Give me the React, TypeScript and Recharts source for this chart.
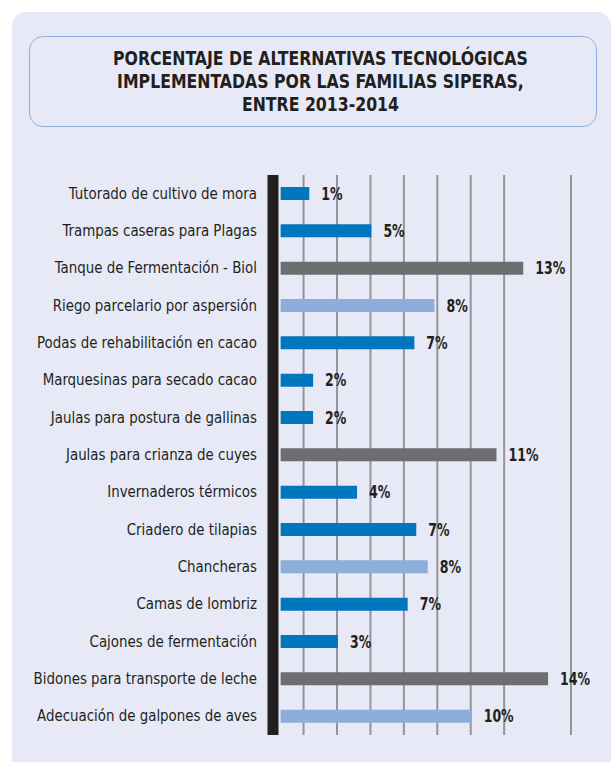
import { BarChart, Bar, XAxis, YAxis, CartesianGrid, Cell, LabelList } from "recharts";

const categories = [
  "Tutorado de cultivo de mora",
  "Trampas caseras para Plagas",
  "Tanque de Fermentación - Biol",
  "Riego parcelario por aspersión",
  "Podas de rehabilitación en cacao",
  "Marquesinas para secado cacao",
  "Jaulas para postura de gallinas",
  "Jaulas para crianza de cuyes",
  "Invernaderos térmicos",
  "Criadero de tilapias",
  "Chancheras",
  "Camas de lombriz",
  "Cajones de fermentación",
  "Bidones para transporte de leche",
  "Adecuación de galpones de aves",
];

const values = [1.5, 4.75, 12.7, 8.05, 7.0, 1.7, 1.7, 11.3, 4.0, 7.1, 7.7, 6.65, 3.0, 14.0, 10.0];

const valueLabels = ["1%", "5%", "13%", "8%", "7%", "2%", "2%", "11%", "4%", "7%", "8%", "7%", "3%", "14%", "10%"];

const groups = ["a", "a", "b", "c", "a", "a", "a", "b", "a", "a", "c", "a", "a", "b", "c"];

// decorative vertical grid, in value units
const gridTicks = [1.2, 2.95, 4.7, 6.45, 8.2, 9.95, 11.7, 13.45, 15.2];

const groupColors: Record<string, string> = {
  a: "#0076be",
  b: "#6d6e71",
  c: "#8dadda",
};

const font = "'Liberation Sans Narrow', 'DejaVu Sans Condensed', 'Roboto', sans-serif";

const chartData = categories.map((name, i) => ({
  name,
  value: values[i],
  label: valueLabels[i],
  group: groups[i],
}));

const CategoryTick = (props: any) => {
  const { x, y, payload } = props;
  return (
    <g transform={`translate(${x},${y}) scale(0.93,1)`}>
      <text x={0} y={0} dy={5} textAnchor="end" fontSize={16} fill="#231f20" fontFamily={font}>
        {payload.value}
      </text>
    </g>
  );
};

const ValueLabel = (props: any) => {
  const { x, y, width, height, value } = props;
  const tx = Number(x) + Number(width) + 12;
  const ty = Number(y) + Number(height) / 2;
  return (
    <g transform={`translate(${tx},${ty}) scale(0.82,1)`}>
      <text x={0} y={0} dy={6} fontSize={17} fontWeight="bold" fill="#231f20" fontFamily={font}>
        {value}
      </text>
    </g>
  );
};

export default function App() {
  return (
    <div style={{ position: "absolute", left: 0, top: 0, width: 611, height: 762, background: "#fff", overflow: "hidden" }}>
      <div
        style={{
          position: "absolute",
          left: 12,
          top: 12,
          width: 599,
          height: 760,
          background: "#e7eaf6",
          borderTopLeftRadius: 14,
          borderTopRightRadius: 14,
        }}
      />
      <div
        style={{
          position: "absolute",
          left: 29,
          top: 36,
          width: 568,
          height: 91,
          border: "1.5px solid #8fb0e0",
          borderRadius: 14,
          display: "flex",
          alignItems: "center",
          justifyContent: "center",
          paddingLeft: 14,
          boxSizing: "border-box",
        }}
      >
        <div
          style={{
            fontFamily: font,
            fontWeight: "bold",
            fontSize: 19,
            lineHeight: "23px",
            textAlign: "center",
            color: "#231f20",
            transform: "scaleX(0.92)",
            whiteSpace: "nowrap",
          }}
        >
          PORCENTAJE DE ALTERNATIVAS TECNOLÓGICAS
          <br />
          IMPLEMENTADAS POR LAS FAMILIAS SIPERAS,
          <br />
          ENTRE 2013-2014
        </div>
      </div>
      <div style={{ position: "absolute", left: 0, top: 0 }}>
        <BarChart
          width={611}
          height={762}
          data={chartData}
          layout="vertical"
          margin={{ top: 175, right: 40, bottom: 27, left: 0 }}
        >
          <CartesianGrid horizontal={false} stroke="#939598" strokeWidth={2} />
          <XAxis type="number" domain={[-0.4, 15.2]} ticks={gridTicks} allowDataOverflow hide />
          <YAxis
            type="category"
            dataKey="name"
            width={273}
            tickLine={false}
            tickSize={0}
            tickMargin={16}
            axisLine={{ stroke: "#231f20", strokeWidth: 11 }}
            tick={<CategoryTick />}
            interval={0}
          />
          <Bar dataKey="value" barSize={13} isAnimationActive={false}>
            {chartData.map((d, i) => (
              <Cell key={i} fill={groupColors[d.group]} />
            ))}
            <LabelList dataKey="label" content={<ValueLabel />} />
          </Bar>
        </BarChart>
      </div>
    </div>
  );
}
